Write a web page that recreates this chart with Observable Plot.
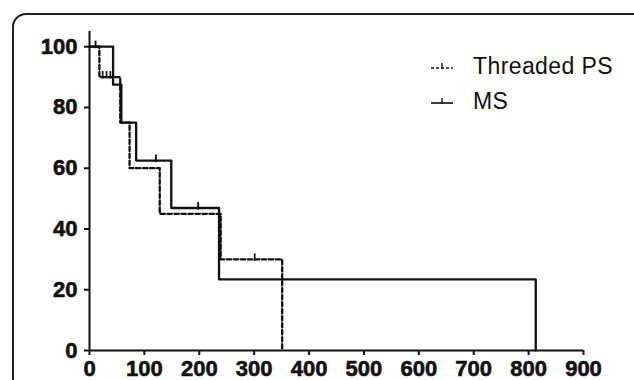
<!DOCTYPE html>
<html>
<head>
<meta charset="utf-8">
<script src="https://cdn.jsdelivr.net/npm/d3@7"></script>
<script src="https://cdn.jsdelivr.net/npm/@observablehq/plot@0.6"></script>
<style>
  html, body { margin: 0; padding: 0; background: #fff; }
  #wrap { position: relative; width: 634px; height: 380px; overflow: hidden; font-family: "Liberation Sans", Arial, sans-serif; }
  #frame { position: absolute; left: 12px; top: 13px; width: 800px; height: 600px; border: 2px solid #222; border-radius: 14px; box-sizing: border-box; }
  #chart { position: absolute; left: 0; top: 0; }
  #chart svg text { font-size: 22px; font-weight: bold; font-family: "Liberation Sans", Arial, sans-serif; stroke: #111; stroke-width: 0.6px; }
  #chart svg g[aria-label="x-axis tick label"] text { font-size: 21px; letter-spacing: 0.4px; }
  #legend { position: absolute; left: 430px; top: 49px; font-size: 23px; letter-spacing: 0.4px; color: #111; }
  .item { display: flex; align-items: center; height: 35px; }
  .item svg { margin-right: 19px; }
</style>
</head>
<body>
<div id="wrap">
  <div id="frame"></div>
  <div id="chart"></div>
  <div id="legend"></div>
</div>
<script>
// Kaplan–Meier steps (time in days, survival %)
const msTime = [0, 43, 58, 85, 149, 236, 813];
const msSurv = [100, 87.5, 75, 62.5, 46.9, 23.4, 0];
const psTime = [0, 18, 56, 73, 128, 239, 351];
const psSurv = [100, 90, 75, 60, 45, 30, 0];
// censored observations
const msCensorTime = [11, 121, 198];
const msCensorSurv = [100, 62.5, 46.9];
const psCensorTime = [24, 31, 38, 301];
const psCensorSurv = [90, 90, 90, 30];
// axis ticks
const xTicks = [0, 100, 200, 300, 400, 500, 600, 700, 800, 900];
const yTicks = [0, 20, 40, 60, 80, 100];
const seriesNames = ["Threaded PS", "MS"];

const ms = msTime.map((t, i) => ({t, s: msSurv[i]}));
const ps = psTime.map((t, i) => ({t, s: psSurv[i]}));
const msC = msCensorTime.map((t, i) => ({t, s: msCensorSurv[i]}));
const psC = psCensorTime.map((t, i) => ({t, s: psCensorSurv[i]}));

const censorSymbol = {
  draw(ctx, size) {
    ctx.moveTo(0, -6);
    ctx.lineTo(0, 1.5);
  }
};

const ink = "#111";
const chart = Plot.plot({
  width: 634,
  height: 380,
  marginLeft: 89,
  marginRight: 51,
  marginTop: 31,
  marginBottom: 30,
  style: {fontFamily: "'Liberation Sans', Arial, sans-serif", fontSize: "22px", fontWeight: "bold", color: ink, background: "transparent", overflow: "visible"},
  x: {domain: [0, 900]},
  y: {domain: [0, 105]},
  marks: [
    Plot.line(ps, {x: "t", y: "s", curve: "step-after", stroke: ink, strokeWidth: 2.3, strokeDasharray: "4.5,2.5"}),
    Plot.line(ms, {x: "t", y: "s", curve: "step-after", stroke: ink, strokeWidth: 2.3}),
    Plot.dot(psC, {x: "t", y: "s", symbol: censorSymbol, stroke: ink, strokeWidth: 1.7, fill: "none"}),
    Plot.dot(msC, {x: "t", y: "s", symbol: censorSymbol, stroke: ink, strokeWidth: 1.9, fill: "none"}),
    Plot.ruleY([0], {stroke: ink, strokeWidth: 2}),
    Plot.ruleX([0], {stroke: ink, strokeWidth: 2}),
    Plot.axisX({ticks: xTicks, tickSize: 5, tickPadding: 5, stroke: ink, strokeWidth: 2, tickFormat: d => String(d), label: null, ariaLabel: "x-axis tick label"}),
    Plot.axisY({ticks: yTicks, tickSize: 5, tickPadding: 7, stroke: ink, strokeWidth: 2, tickFormat: d => String(d), label: null})
  ]
});
document.getElementById("chart").appendChild(chart);

// legend
const legend = document.getElementById("legend");
seriesNames.forEach((name, i) => {
  const item = document.createElement("div");
  item.className = "item";
  const dashed = i === 0;
  item.innerHTML =
    `<svg width="24" height="14" viewBox="0 0 24 14">
       <line x1="1" x2="23" y1="8" y2="8" stroke="${ink}" stroke-width="1.6" ${dashed ? 'stroke-dasharray="3,2"' : ''}/>
       <line x1="12" x2="12" y1="3" y2="9" stroke="${ink}" stroke-width="1.4"/>
     </svg><span>${name}</span>`;
  legend.appendChild(item);
});
</script>
</body>
</html>
